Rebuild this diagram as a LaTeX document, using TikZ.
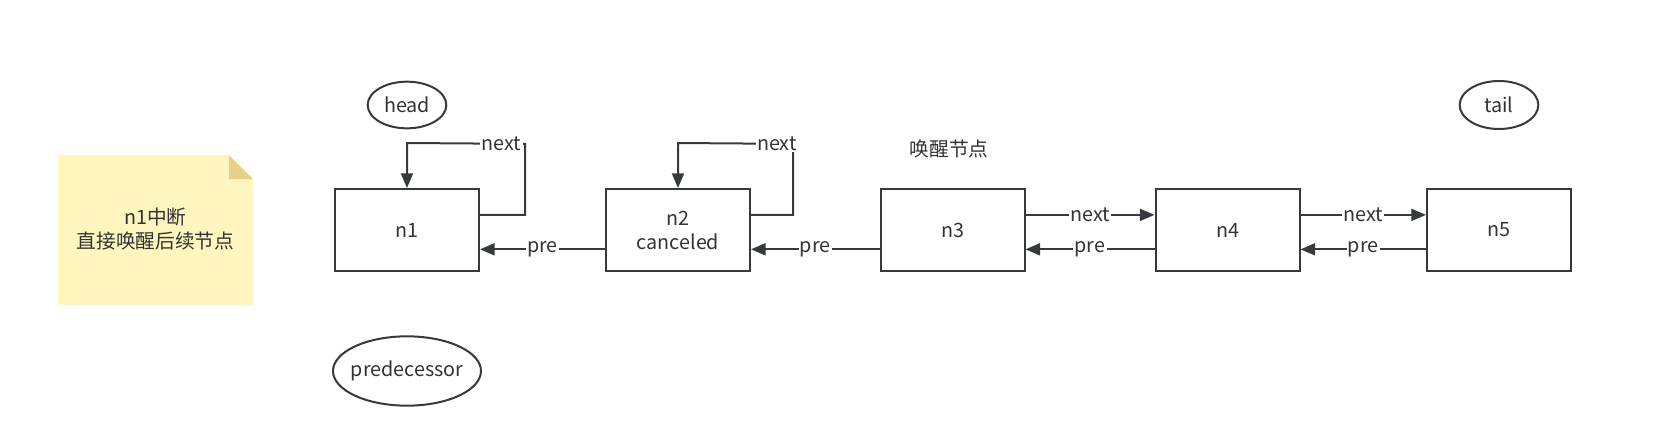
\documentclass[tikz,border=0pt]{standalone}
\usepackage{fontspec}
\setmainfont{Noto Sans CJK SC}
\usetikzlibrary{arrows.meta,calc,shapes.geometric}
\definecolor{txt}{HTML}{333333}
\definecolor{strk}{HTML}{36393D}
\definecolor{notefill}{HTML}{FFF5BF}
\definecolor{notefold}{HTML}{E6D08C}
\tikzset{
  base/.style={text=txt,font=\fontsize{14.8}{18}\selectfont},
  box/.style={base,draw=strk,line width=1.5pt,minimum width=108pt,minimum height=61.5pt,inner sep=0pt,align=center},
  oval/.style={base,ellipse,draw=strk,line width=1.5pt,inner sep=0pt},
  arr/.style={draw=strk,line width=1.5pt,-{Triangle[length=11pt,width=9pt]}},
  lbl/.style={base,fill=white,inner sep=1pt},
}
\begin{document}
\begin{tikzpicture}[x=0.75pt,y=-0.75pt]
\useasboundingbox (0,0) rectangle (1667,436);
% note
\fill[notefill] (58,155) -- (229,155) -- (253,179) -- (253,305) -- (58,305) -- cycle;
\fill[notefold] (229,155) -- (253,179) -- (229,179) -- cycle;
\node[base,align=center] (note) at (155.5,229) {n1中断\\直接唤醒后续节点};
% boxes
\node[box] (n1) at (407,230) {n1};
\node[box] (n2) at (678,230) {n2\\canceled};
\node[box] (n3) at (952.5,230) {n3};
\node[box] (n4) at (1227.5,230) {n4};
\node[box] (n5) at (1499,230) {n5};
% ovals
\node[oval,minimum width=59pt,minimum height=35pt] (head) at (407,105) {head};
\node[oval,minimum width=59pt,minimum height=36pt] (tail) at (1499,105) {tail};
\node[oval,inner xsep=-9pt,inner ysep=-9pt,minimum width=111pt,minimum height=52pt] (pred) at (407,371) {predecessor};
\node[base] (wake) at (949,149) {唤醒节点};
% connectors
\foreach \a in {n1,n2,n3,n4,n5}{
  \coordinate (\a-hi-e) at ($(\a.north east)!0.32!(\a.south east)$);
  \coordinate (\a-lo-e) at ($(\a.north east)!0.73!(\a.south east)$);
  \coordinate (\a-hi-w) at ($(\a.north west)!0.32!(\a.south west)$);
  \coordinate (\a-lo-w) at ($(\a.north west)!0.73!(\a.south west)$);
}
% self loops
\draw[arr] (n1-hi-e) -- ++(45,0) -- ++(0,-71) -- node[lbl,pos=0.2] {next} ($(n1.north)+(0,-45)$) -- (n1.north);
\draw[arr] (n2-hi-e) -- ++(42,0) -- ++(0,-71) -- node[lbl,pos=0.14] {next} ($(n2.north)+(0,-45)$) -- (n2.north);
% pre arrows
\draw[arr] (n2-lo-w) -- node[lbl] {pre} (n1-lo-e);
\draw[arr] (n3-lo-w) -- node[lbl] {pre} (n2-lo-e);
\draw[arr] (n4-lo-w) -- node[lbl] {pre} (n3-lo-e);
\draw[arr] (n5-lo-w) -- node[lbl] {pre} (n4-lo-e);
% next arrows
\draw[arr] (n3-hi-e) -- node[lbl] {next} (n4-hi-w);
\draw[arr] (n4-hi-e) -- node[lbl] {next} (n5-hi-w);
\end{tikzpicture}
\end{document}
